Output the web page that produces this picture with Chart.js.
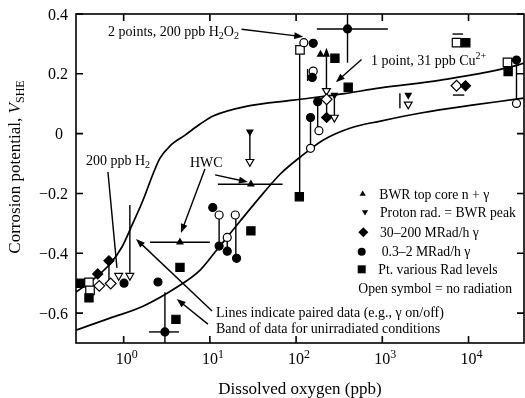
<!DOCTYPE html>
<html>
<head>
<meta charset="utf-8">
<script src="https://cdn.jsdelivr.net/npm/chart.js@4.4.1/dist/chart.umd.min.js"></script>
<style>
  html, body { margin: 0; padding: 0; background: #fff; }
  #wrap { width: 525px; height: 398px; }
</style>
</head>
<body>
<div id="wrap"><canvas id="c" width="525" height="398"></canvas></div>
<script>
// axis ranges and tick labels
const xRange = [0.28, 44000];
const yRange = [-0.7, 0.4];
const xTickExps = [0, 1, 2, 3, 4];
const yTicks = [0.4, 0.2, 0, -0.2, -0.4, -0.6];

// band of data for unirradiated conditions: [ppb, V]
const bandUpper = [[0.28,-0.530],[0.464,-0.483],[0.693,-0.436],[0.955,-0.379],[1.25,-0.306],[1.68,-0.222],
  [2.19,-0.135],[2.64,-0.082],[3.45,-0.041],[5.16,-0.005],[7.71,0.032],[10.9,0.059],[27.1,0.092],
  [92.7,0.112],[327,0.132],[955,0.153],[4760,0.179],[37400,0.229],[44000,0.236]];
const bandLower = [[0.28,-0.657],[0.693,-0.617],[1.68,-0.577],[4.17,-0.513],[7.71,-0.456],[11.5,-0.396],
  [22.5,-0.292],[41.7,-0.199],[65.6,-0.135],[112,-0.078],[207,-0.021],[428,0.019],[955,0.042],
  [2790,0.069],[11500,0.096],[37400,0.116],[44000,0.119]];

// symbols: [ppb, V]
const filledCircles = [[1.01,-0.50],[2.5,-0.496],[3.01,-0.663],[10.8,-0.247],[12.8,-0.376],[15.9,-0.393],
  [20.4,-0.417],[158,0.302],[154,0.188],[178,0.107],[147,0.054],[395,0.35],[36000,0.246]];
const openCircles = [[12.8,-0.272],[15.9,-0.347],[19.7,-0.272],[123,0.304],[158,0.209],[184,0.01],
  [147,-0.049],[36000,0.101]];
const filledSquares = [[0.311,-0.50],[0.396,-0.549],[4.5,-0.447],[4.04,-0.621],[29.9,-0.325],[109,-0.211],
  [282,0.252],[402,0.155],[9300,0.304],[28800,0.208]];
const openSquares = [[0.396,-0.497],[0.407,-0.524],[111,0.28],[7260,0.304],[28300,0.238]];
const filledDiamonds = [[0.5,-0.469],[0.675,-0.425],[226,0.054],[9230,0.16]];
const openDiamonds = [[0.521,-0.509],[0.707,-0.501],[226,0.115],[7260,0.16]];
const filledUpTriangles = [[29.9,-0.169],[4.5,-0.363],[192,0.265]];
const filledDownTriangles = [[29.1,0.006],[278,0.129],[2000,0.129]];
const openDownTriangles = [[0.875,-0.475],[1.18,-0.475],[29.1,-0.094],[225,0.143],[278,0.054],[2000,0.098]];

// paired data lines and vertical error bars: [ppb, V1, V2]
const pairLines = [[0.675,-0.425,-0.49],[1.18,-0.239,-0.465],[12.8,-0.272,-0.376],[15.9,-0.347,-0.393],
  [20,-0.272,-0.417],[29.1,0.006,-0.094],[110,0.28,-0.211],[178,0.107,0.01],[147,0.054,-0.049],
  [226,0.115,0.054],[278,0.129,0.054],[36000,0.246,0.101],[136,0.216,0.176],[1600,0.135,0.085],
  [395,0.4,0.237],[3.01,-0.53,-0.7]];
// horizontal error bars: [V, ppb1, ppb2]
const hBars = [[0.333,6520,8650],[0.129,6590,8920],[0.35,174,1160],[-0.663,1.97,4.38],
  [-0.169,12.4,69.7],[-0.363,2.02,10.0]];
// annotation pointers: [ppb1, V1, ppb2, V2, head]
const pointers = [[23.3,0.349,121,0.324,1],[574,0.248,289,0.172,1],[11.5,-0.138,27.6,-0.162,1],
  [8.77,-0.118,4.62,-0.332,1],[10.6,-0.593,1.39,-0.352,1],[9.49,-0.637,4.12,-0.553,1],
  [225,0.151,225,0.287,1],[0.657,-0.128,0.836,-0.449,0]];

const serif = "'Liberation Serif', 'Times New Roman', Times, serif";

const pts = arr => arr.map(p => ({ x: p[0], y: p[1] }));

function markerSet(data, style, radius, filled, rotation) {
    return {
        data: pts(data), order: 1, showLine: false,
        pointStyle: style, pointRadius: radius, pointHoverRadius: radius,
        pointRotation: rotation || 0,
        pointBackgroundColor: filled ? '#000' : '#fff',
        pointBorderColor: '#000', pointBorderWidth: 1.2,
    };
}

function segment(a, b) {
    return {
        data: [a, b], order: 2, showLine: true, pointRadius: 0,
        borderColor: '#000', borderWidth: 1.4,
    };
}

function curve(data) {
    return {
        data: pts(data), order: 3, showLine: true, pointRadius: 0,
        borderColor: '#000', borderWidth: 1.7, cubicInterpolationMode: 'monotone',
    };
}

// text with sub/superscripts, y is the baseline
function rich(ctx, parts, x, y, size, align) {
    const fontFor = k => (k === 'i' ? 'italic ' : '') +
        (k === 'sub' || k === 'sup' ? Math.round(size * 0.72) : size) + 'px ' + serif;
    let w = 0;
    parts.forEach(([t, k]) => { ctx.font = fontFor(k); w += ctx.measureText(t).width; });
    let cx = align === 'center' ? x - w / 2 : align === 'right' ? x - w : x;
    ctx.textAlign = 'left';
    ctx.textBaseline = 'alphabetic';
    parts.forEach(([t, k]) => {
        ctx.font = fontFor(k);
        const dy = k === 'sub' ? size * 0.24 : k === 'sup' ? -size * 0.4 : 0;
        ctx.fillText(t, cx, y + dy);
        cx += ctx.measureText(t).width;
    });
}

function arrow(ctx, x1, y1, x2, y2, head) {
    const ang = Math.atan2(y2 - y1, x2 - x1), L = 9, W = 3.4;
    const ex = head ? x2 - L * 0.8 * Math.cos(ang) : x2;
    const ey = head ? y2 - L * 0.8 * Math.sin(ang) : y2;
    ctx.beginPath(); ctx.moveTo(x1, y1); ctx.lineTo(ex, ey); ctx.stroke();
    if (!head) return;
    ctx.beginPath();
    ctx.moveTo(x2, y2);
    ctx.lineTo(x2 - L * Math.cos(ang) + W * Math.sin(ang), y2 - L * Math.sin(ang) - W * Math.cos(ang));
    ctx.lineTo(x2 - L * Math.cos(ang) - W * Math.sin(ang), y2 - L * Math.sin(ang) + W * Math.cos(ang));
    ctx.closePath(); ctx.fill();
}

function legendMark(ctx, kind, x, y) {
    ctx.beginPath();
    if (kind === 'up') { const r = 3.6; ctx.moveTo(x, y - r); ctx.lineTo(x + 0.866 * r, y + r / 2); ctx.lineTo(x - 0.866 * r, y + r / 2); }
    if (kind === 'down') { const r = 3.6; ctx.moveTo(x, y + r); ctx.lineTo(x + 0.866 * r, y - r / 2); ctx.lineTo(x - 0.866 * r, y - r / 2); }
    if (kind === 'diamond') { const r = 5; ctx.moveTo(x, y - r); ctx.lineTo(x + r, y); ctx.lineTo(x, y + r); ctx.lineTo(x - r, y); }
    if (kind === 'circle') ctx.arc(x, y, 4, 0, Math.PI * 2);
    if (kind === 'square') ctx.rect(x - 4, y - 4, 8, 8);
    ctx.closePath(); ctx.fill();
}

const frame = {
    id: 'frame',
    afterDatasetsDraw(chart) {
        const { ctx, chartArea: a, scales: { x, y } } = chart;
        ctx.save();
        ctx.strokeStyle = '#000';
        ctx.fillStyle = '#000';

        // pointers
        ctx.lineWidth = 1.4;
        pointers.forEach(p => arrow(ctx, x.getPixelForValue(p[0]), y.getPixelForValue(p[1]),
            x.getPixelForValue(p[2]), y.getPixelForValue(p[3]), p[4]));

        // frame and inward ticks
        ctx.lineWidth = 1.6;
        ctx.strokeRect(a.left, a.top, a.right - a.left, a.bottom - a.top);
        ctx.beginPath();
        xTickExps.forEach(e => {
            const px = x.getPixelForValue(Math.pow(10, e));
            ctx.moveTo(px, a.top); ctx.lineTo(px, a.top + 7);
            ctx.moveTo(px, a.bottom); ctx.lineTo(px, a.bottom - 7);
        });
        yTicks.forEach(v => {
            const py = y.getPixelForValue(v);
            ctx.moveTo(a.left, py); ctx.lineTo(a.left + 7, py);
            ctx.moveTo(a.right, py); ctx.lineTo(a.right - 7, py);
        });
        ctx.stroke();

        // tick labels
        yTicks.forEach(v => {
            const py = y.getPixelForValue(v);
            const txt = v === 0 ? '0' : (v < 0 ? '\u2212' : '') + Math.abs(v).toFixed(1);
            rich(ctx, [[txt, '']], v === 0 ? 63 : 68, py + 5.5, 16, 'right');
        });
        xTickExps.forEach(e => {
            const px = x.getPixelForValue(Math.pow(10, e));
            rich(ctx, [['10', ''], [String(e), 'sup']], px + 3, 364, 16, 'center');
        });

        // axis titles
        rich(ctx, [['Dissolved oxygen (ppb)', '']], 300, 394, 17, 'center');
        ctx.save();
        ctx.translate(20, 167);
        ctx.rotate(-Math.PI / 2);
        rich(ctx, [['Corrosion potential, ', ''], ['V', 'i'], ['SHE', 'sub']], 0, 0, 17, 'center');
        ctx.restore();

        // annotations
        const s = 14;
        rich(ctx, [['2 points, 200 ppb H', ''], ['2', 'sub'], ['O', ''], ['2', 'sub']], 108, 36, s);
        rich(ctx, [['1 point, 31 ppb Cu', ''], ['2+', 'sup']], 371, 64.5, s);
        rich(ctx, [['200 ppb H', ''], ['2', 'sub']], 86, 164.5, s);
        rich(ctx, [['HWC', '']], 190, 166.5, s);
        rich(ctx, [['Lines indicate paired data (e.g., \u03b3 on/off)', '']], 216, 317, s);
        rich(ctx, [['Band of data for unirradiated conditions', '']], 216, 332.5, s);

        // legend
        const leg = [
            ['up', 362.7, 194, 'BWR top core n + \u03b3', 379.3],
            ['down', 365, 212, 'Proton rad. = BWR peak', 380],
            ['diamond', 363.3, 232.3, '30\u2013200 MRad/h \u03b3', 380],
            ['circle', 361.7, 251.7, '0.3\u20132 MRad/h \u03b3', 381.7],
            ['square', 361.7, 269.3, 'Pt. various Rad levels', 378.3],
        ];
        leg.forEach(([k, mx, my, t, tx]) => {
            legendMark(ctx, k, mx, my);
            rich(ctx, [[t, '']], tx, my + 4.5, 13.7);
        });
        rich(ctx, [['Open symbol = no radiation', '']], 358.3, 292.8, 13.7);
        ctx.restore();
    }
};

const datasets = [
    markerSet(filledCircles, 'circle', 4, true),
    markerSet(openCircles, 'circle', 4, false),
    markerSet(filledSquares, 'rect', 5.8, true),
    markerSet(openSquares, 'rect', 6, false),
    markerSet(filledDiamonds, 'rectRot', 5, true),
    markerSet(openDiamonds, 'rectRot', 5.4, false),
    markerSet(filledUpTriangles, 'triangle', 3.4, true),
    markerSet(filledDownTriangles, 'triangle', 3.4, true, 180),
    markerSet(openDownTriangles, 'triangle', 4.5, false, 180),
    ...pairLines.map(p => segment({ x: p[0], y: p[1] }, { x: p[0], y: p[2] })),
    ...hBars.map(b => segment({ x: b[1], y: b[0] }, { x: b[2], y: b[0] })),
    curve(bandUpper),
    curve(bandLower),
];

new Chart(document.getElementById('c'), {
    type: 'scatter',
    data: { datasets },
    options: {
        responsive: false,
        animation: false,
        devicePixelRatio: 1,
        layout: { autoPadding: false, padding: { left: 76, top: 14, right: 1, bottom: 55 } },
        plugins: { legend: { display: false }, tooltip: { enabled: false } },
        events: [],
        scales: {
            x: { type: 'logarithmic', min: xRange[0], max: xRange[1], display: false },
            y: { type: 'linear', min: yRange[0], max: yRange[1], display: false },
        },
    },
    plugins: [frame],
});
</script>
</body>
</html>
